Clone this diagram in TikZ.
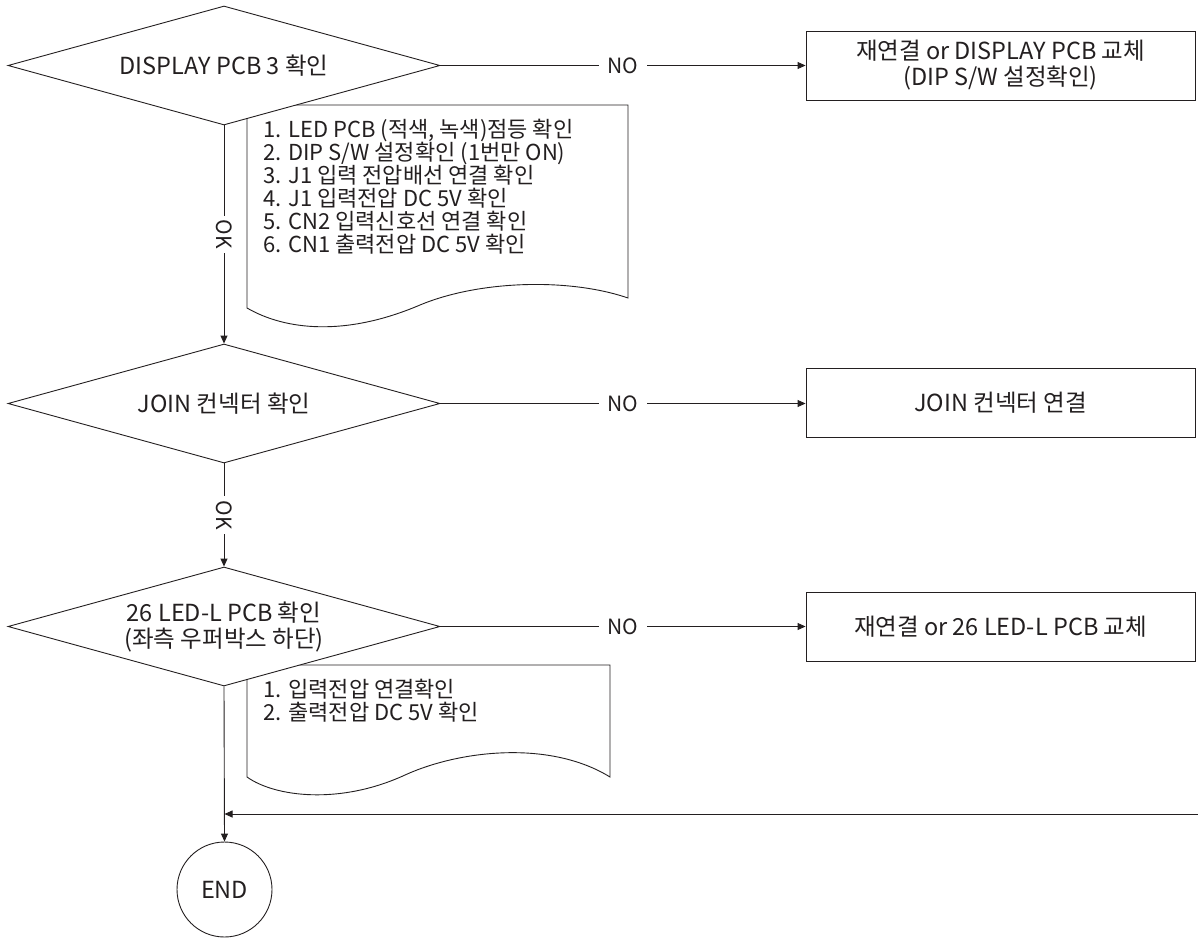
\documentclass[tikz,border=0pt]{standalone}
\usepackage{fontspec}
\setmainfont{Noto Sans CJK KR}
\usetikzlibrary{shapes.geometric,arrows.meta}
\definecolor{ink}{HTML}{231F20}
\begin{document}
\begin{tikzpicture}[x=1pt,y=-1pt, line width=0.9pt, draw=ink, text=ink,
  font=\fontsize{23.5}{26}\selectfont,
  dec/.style={draw, diamond, aspect=3.63, fill=white, minimum width=432pt, minimum height=119pt, inner sep=0pt, align=center},
  act/.style={draw, rectangle, fill=white, minimum width=389pt, minimum height=69pt, inner sep=0pt, align=center},
  endnode/.style={draw, circle, minimum size=95pt, inner sep=0pt},
  arr/.style={-{Triangle[length=8pt,width=7pt]}},
  lbl/.style={fill=white, inner sep=9pt, font=\fontsize{21}{22}\selectfont},
  oklbl/.style={fill=white, inner sep=4pt, rotate=-90, font=\fontsize{21}{22}\selectfont},
  notes/.style={anchor=north west, inner sep=0pt, align=left, font=\fontsize{22}{23}\selectfont}
]
\useasboundingbox (0,0) rectangle (1198,939);

% document shapes (drawn first, diamonds cover their top-left corner)
\draw[fill=white] (247,105) -- (628,105) -- (628,298)
  .. controls (570,278) and (480,280) .. (420,305)
  .. controls (345,337) and (285,330) .. (247,308) -- cycle;
\node[notes] (n1) at (263,119) {1. LED PCB (적색, 녹색)점등 확인\\
2. DIP S/W 설정확인 (1번만 ON)\\
3. J1 입력 전압배선 연결 확인\\
4. J1 입력전압 DC 5V 확인\\
5. CN2 입력신호선 연결 확인\\
6. CN1 출력전압 DC 5V 확인};

\draw[fill=white] (247,665) -- (610,665) -- (610,777)
  .. controls (550,740) and (460,750) .. (405,775)
  .. controls (340,805) and (275,797) .. (247,777) -- cycle;
\node[notes] (n2) at (263,679) {1. 입력전압 연결확인\\
2. 출력전압 DC 5V 확인};

% decisions
\node[dec] (d1) at (224,65.5) {DISPLAY PCB 3 확인};
\node[dec] (d2) at (224,403.5) {JOIN 컨넥터 확인};
\node[dec] (d3) at (224,626.5) {26 LED-L PCB 확인\\(좌측 우퍼박스 하단)};

% actions
\node[act] (b1) at (1000.5,65.5) {재연결 or DISPLAY PCB 교체\\(DIP S/W 설정확인)};
\node[act] (b2) at (1000.5,403) {JOIN 컨넥터 연결};
\node[act] (b3) at (1000.5,627) {재연결 or 26 LED-L PCB 교체};

\node[endnode] (e) at (224.5,889.5) {END};

% connectors
\draw[arr] (d1.east) -- node[lbl] {NO} (b1.west |- d1.east);
\draw[arr] (d2.east) -- node[lbl] {NO} (b2.west |- d2.east);
\draw[arr] (d3.east) -- node[lbl] {NO} (b3.west |- d3.east);

\draw[arr] (d1.south) -- node[oklbl] {OK} (d2.north);
\draw[arr] (d2.south) -- node[oklbl] {OK} (d3.north);
\draw[arr] (d3.south) -- (e.north);

\coordinate (r) at (1198,814);
\coordinate (j) at (224.5,814);
\draw[arr] (r) -- (j);
\end{tikzpicture}
\end{document}
